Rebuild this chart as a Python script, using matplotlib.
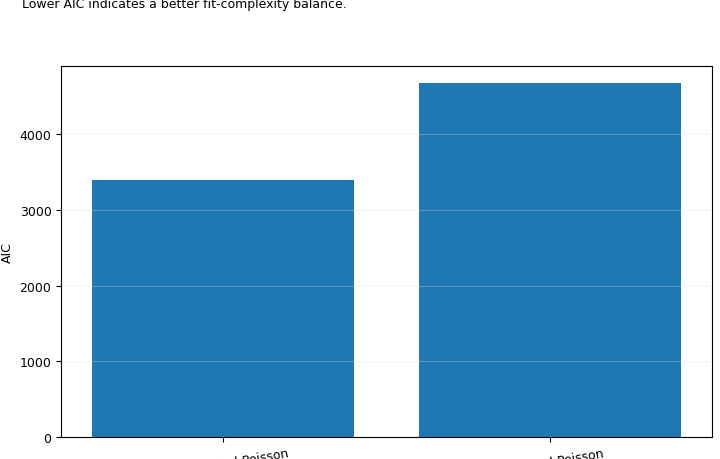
import matplotlib
matplotlib.use("Agg")
import matplotlib.pyplot as plt

plt.rcParams["font.size"] = 9

models = ["Zero-Inflated Poisson", "Standard Poisson"]
aic = [3390, 4680]

fig = plt.figure(figsize=(7.2, 4.6), dpi=100)
ax = fig.add_axes([0.085, 0.048, 0.904, 0.806])
ax.bar(range(len(models)), aic, width=0.8, color="#1f77b4")
ax.set_xlim(-0.495, 1.495)
ax.set_ylim(0, 4898)
ax.set_xticks(range(len(models)))
ax.set_xticklabels(models, rotation=10, ha="center")
ax.set_yticks([0, 1000, 2000, 3000, 4000])
ax.set_ylabel("AIC")
ax.set_axisbelow(False)
ax.grid(axis="y", color="#dddddd", alpha=0.3, linewidth=0.8)
fig.text(0.031, 0.99, "Lower AIC indicates a better fit-complexity balance.", ha="left", va="center", fontsize=9)
fig.savefig("out.png", dpi=100)
